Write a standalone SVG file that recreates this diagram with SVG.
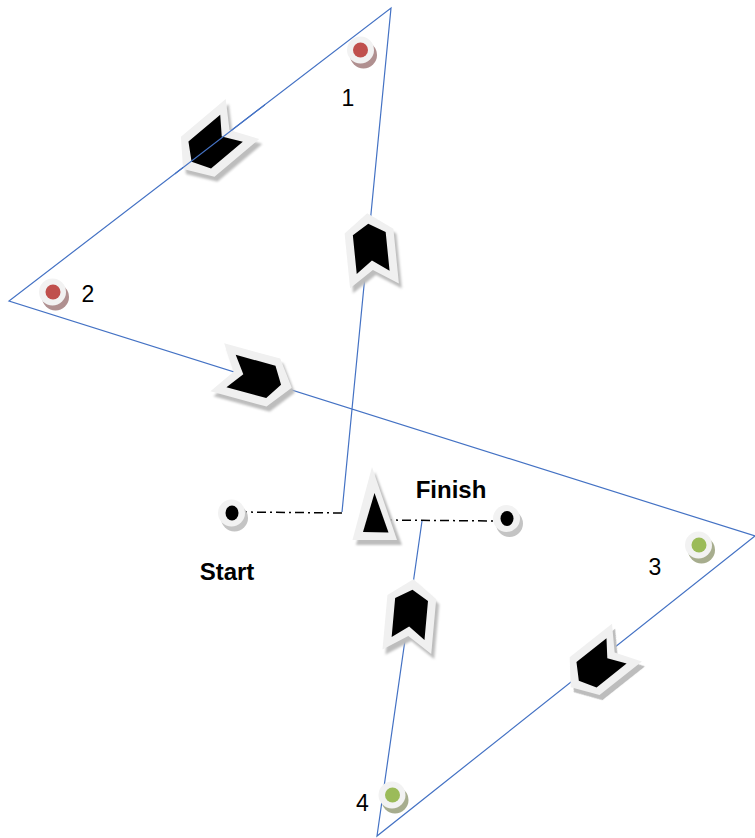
<svg xmlns="http://www.w3.org/2000/svg" xmlns:xlink="http://www.w3.org/1999/xlink" width="755" height="838" viewBox="0 0 755 838">
<style>
.course{fill:none;stroke:#4472c4;stroke-width:1.2;stroke-linejoin:miter}
.dashdot{fill:none;stroke:#000;stroke-width:1.5;stroke-dasharray:9 4 2 4}
.shadow{fill:#bdbdbd}
.plate{fill:#f0f0f0}
.ink{fill:#000}
.num{font-family:"Liberation Sans",Arial,sans-serif;font-size:23px;fill:#000;text-anchor:middle}
.lbl{font-family:"Liberation Sans",Arial,sans-serif;font-size:24px;font-weight:bold;fill:#000;text-anchor:middle}
.ring{fill:#f2f2f2}
.red{fill:#c0504d}
.green{fill:#9bbb59}
.sh-red{fill:#b09090}
.sh-green{fill:#a7ad8e}
.sh-grey{fill:#c4c4c4}
</style>
<defs>
<polygon id="chevO" points="0,-38 24.5,-20 24.5,35 0,19 -24.5,35 -24.5,-20"/>
<polygon id="chevI" points="0,-27.5 16.5,-17.5 16.5,21.5 0,9.5 -16.5,21.5 -16.5,-17.5"/>
<filter id="soft" x="-20%" y="-20%" width="140%" height="140%"><feGaussianBlur stdDeviation="0.8"/></filter>
<clipPath id="clipA"><rect x="175" y="95" width="90" height="95"/></clipPath>
</defs>

<g id="connectors">
<polyline id="course" class="course" points="342,512 391,8 9,301 755,536 377,836 422,521"/>
<line class="dashdot" x1="238" y1="512" x2="344" y2="513"/>
<line class="dashdot" x1="383" y1="520" x2="496" y2="521"/>
</g>

<g id="arrow-leg1">
<use href="#chevO" class="shadow" filter="url(#soft)" transform="translate(3,5) matrix(0.995,-0.1,0.1,0.995,371,251)"/>
<use href="#chevO" class="plate" transform="matrix(0.995,-0.1,0.1,0.995,371,251)"/>
<use href="#chevI" class="ink" transform="matrix(0.995,-0.1,0.1,0.995,371,251)"/>
</g>

<g id="arrow-leg2">
<use href="#chevO" class="shadow" filter="url(#soft)" transform="translate(3,5) matrix(-0.685,-0.815,0.815,-0.685,214,143)"/>
<use href="#chevO" class="plate" transform="matrix(-0.685,-0.815,0.815,-0.685,214,143)"/>
<use href="#chevI" class="ink" transform="matrix(-0.685,-0.815,0.815,-0.685,214,143)"/>
</g>

<g id="arrow-leg3">
<use href="#chevO" class="shadow" filter="url(#soft)" transform="translate(3,5) matrix(-0.28,0.98,-1.02,-0.28,253,377)"/>
<use href="#chevO" class="plate" transform="matrix(-0.28,0.98,-1.02,-0.28,253,377)"/>
<use href="#chevI" class="ink" transform="matrix(-0.28,0.98,-1.02,-0.28,253,377)"/>
</g>

<g id="arrow-leg4">
<use href="#chevO" class="shadow" filter="url(#soft)" transform="translate(3,5) matrix(-0.61,-0.77,0.77,-0.61,600,664)"/>
<use href="#chevO" class="plate" transform="matrix(-0.61,-0.77,0.77,-0.61,600,664)"/>
<use href="#chevI" class="ink" transform="matrix(-0.61,-0.77,0.77,-0.61,600,664)"/>
</g>

<g id="arrow-leg5">
<use href="#chevO" class="shadow" filter="url(#soft)" transform="translate(3,5) matrix(0.995,0.09,-0.09,0.995,410,617)"/>
<use href="#chevO" class="plate" transform="matrix(0.995,0.09,-0.09,0.995,410,617)"/>
<use href="#chevI" class="ink" transform="matrix(0.995,0.09,-0.09,0.995,410,617)"/>
</g>

<g id="connectors-over">
<use href="#course" clip-path="url(#clipA)"/>
</g>

<g id="committee-boat">
<polygon class="shadow" filter="url(#soft)" points="375,472 356,545 402,545"/>
<polygon class="plate" points="372,467 352.5,540 397,540"/>
<polygon class="ink" points="374.5,493 363,532 388.5,532.5"/>
</g>

<g id="mark-1">
<circle class="sh-red" cx="363.5" cy="55" r="13.5"/>
<circle class="ring" cx="360.5" cy="50" r="13.5"/>
<circle class="red" cx="360.5" cy="50" r="7.5"/>
<text class="num" x="348" y="106">1</text>
</g>

<g id="mark-2">
<circle class="sh-red" cx="55.5" cy="297" r="13.5"/>
<circle class="ring" cx="52.5" cy="292" r="13.5"/>
<circle class="red" cx="53" cy="292" r="7.5"/>
<text class="num" x="88" y="302">2</text>
</g>

<g id="mark-3">
<circle class="sh-green" cx="701.5" cy="550" r="13.5"/>
<circle class="ring" cx="698.5" cy="545" r="13.5"/>
<circle class="green" cx="699" cy="545" r="7.5"/>
<text class="num" x="655" y="575">3</text>
</g>

<g id="mark-4">
<circle class="sh-green" cx="395" cy="800" r="13.5"/>
<circle class="ring" cx="392" cy="795" r="13.5"/>
<circle class="green" cx="392.5" cy="795" r="7.5"/>
<text class="num" x="362.5" y="811">4</text>
</g>

<g id="start-mark">
<circle class="sh-grey" cx="234.5" cy="518" r="13.5"/>
<circle class="ring" cx="231.5" cy="513" r="13.5"/>
<ellipse class="ink" cx="232" cy="513" rx="6.5" ry="7.5"/>
<text class="lbl" x="227" y="580">Start</text>
</g>

<g id="finish-mark">
<circle class="sh-grey" cx="509.5" cy="523.5" r="13.5"/>
<circle class="ring" cx="506.5" cy="518.5" r="13.5"/>
<ellipse class="ink" cx="507" cy="518.5" rx="6.5" ry="7.5"/>
<text class="lbl" x="451" y="498">Finish</text>
</g>
</svg>
